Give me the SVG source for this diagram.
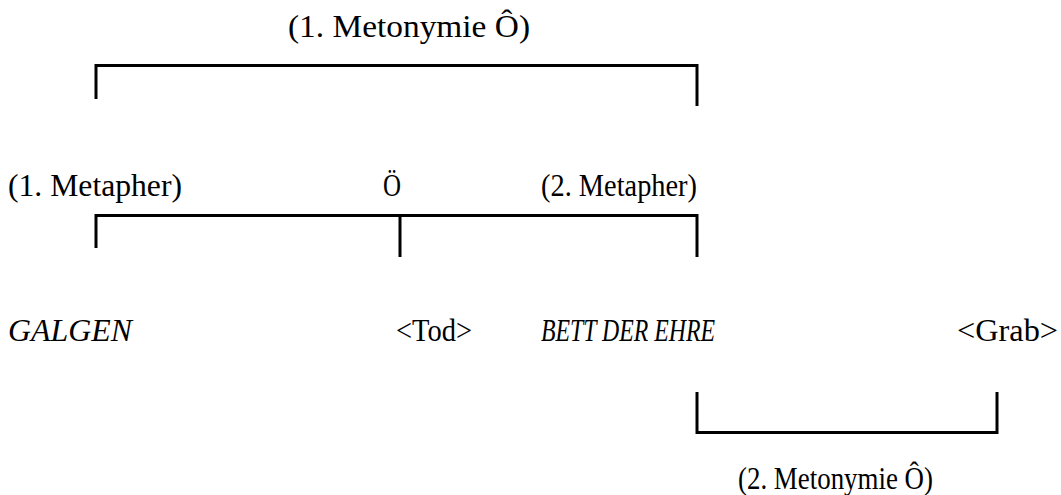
<svg xmlns="http://www.w3.org/2000/svg" width="1061" height="495" viewBox="0 0 1061 495">
<style>
.t{font-family:"Liberation Serif","Times New Roman",serif;font-size:32px;fill:#000}
.i{font-style:italic}
.l{stroke:#000;stroke-width:3;fill:none}
</style>
<rect width="1061" height="495" fill="#fff"/>
<g id="connectors">
<path class="l" d="M96,99 V65.5 H697 V106"/>
<path class="l" d="M96,248 V215.5 H697 V257"/>
<path class="l" d="M400,215.5 V257"/>
<path class="l" d="M697,392 V432.5 H997 V392"/>
</g>
<g id="metonymie1"><text class="t" x="288" y="37" textLength="242" lengthAdjust="spacingAndGlyphs">(1. Metonymie Ô)</text></g>
<g id="metapher1"><text class="t" x="8" y="196" textLength="174" lengthAdjust="spacingAndGlyphs">(1. Metapher)</text></g>
<g id="oe"><text class="t" x="383" y="196" textLength="18" lengthAdjust="spacingAndGlyphs">Ö</text></g>
<g id="metapher2"><text class="t" x="541" y="196" textLength="156" lengthAdjust="spacingAndGlyphs">(2. Metapher)</text></g>
<g id="galgen"><text class="t i" x="8" y="341" textLength="124" lengthAdjust="spacingAndGlyphs">GALGEN</text></g>
<g id="tod"><text class="t" x="396" y="341" textLength="76" lengthAdjust="spacingAndGlyphs">&lt;Tod&gt;</text></g>
<g id="bett"><text class="t i" x="541" y="341" textLength="174" lengthAdjust="spacingAndGlyphs">BETT DER EHRE</text></g>
<g id="grab"><text class="t" x="957" y="341" textLength="101" lengthAdjust="spacingAndGlyphs">&lt;Grab&gt;</text></g>
<g id="metonymie2"><text class="t" x="738" y="489" textLength="195" lengthAdjust="spacingAndGlyphs">(2. Metonymie Ô)</text></g>
</svg>
